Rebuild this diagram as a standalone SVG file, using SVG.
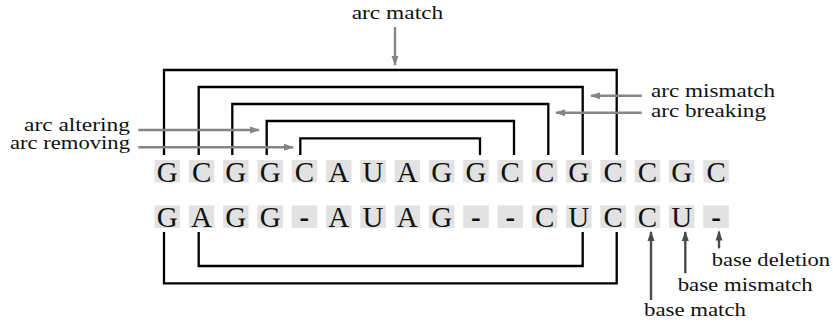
<svg xmlns="http://www.w3.org/2000/svg" width="833" height="327" viewBox="0 0 833 327">
  <defs>
    <style>
      .box { fill: #e2e2e2; }
      .base { font-size: 29px; fill: #111; text-anchor: middle; }
      .gap { font-weight: bold; }
      .lbl { font-size: 19px; fill: #111; }
      .lbl-tight { font-size: 18px; }
      .arc { fill: none; stroke: #000; stroke-width: 2.3; stroke-linejoin: miter; }
      .ptr { fill: none; stroke: #858585; stroke-width: 2.4; }
      .ptr-dark { fill: none; stroke: #4a4a4a; stroke-width: 2.4; }
    </style>
    <marker id="headLight" markerUnits="userSpaceOnUse" markerWidth="10" markerHeight="8" refX="9" refY="4" orient="auto">
      <path d="M0,0.5 L10,4 L0,7.5 z" fill="#858585"/>
    </marker>
    <marker id="headDark" markerUnits="userSpaceOnUse" markerWidth="10" markerHeight="8" refX="9" refY="4" orient="auto">
      <path d="M0,0.5 L10,4 L0,7.5 z" fill="#4a4a4a"/>
    </marker>
  </defs>

  <rect width="833" height="327" fill="#fff"/>

  <!-- upper sequence -->
  <g id="top-row" font-family="Liberation Serif, Times New Roman, serif">
    <g id="t0"><rect class="box" x="154.5" y="160" width="25.5" height="22.5"/><text class="base" x="167.25" y="181.5">G</text></g>
    <g id="t1"><rect class="box" x="188.8" y="160" width="25.5" height="22.5"/><text class="base" x="201.55" y="181.5">C</text></g>
    <g id="t2"><rect class="box" x="223.1" y="160" width="25.5" height="22.5"/><text class="base" x="235.85" y="181.5">G</text></g>
    <g id="t3"><rect class="box" x="257.4" y="160" width="25.5" height="22.5"/><text class="base" x="270.15" y="181.5">G</text></g>
    <g id="t4"><rect class="box" x="291.7" y="160" width="25.5" height="22.5"/><text class="base" x="304.45" y="181.5">C</text></g>
    <g id="t5"><rect class="box" x="326" y="160" width="25.5" height="22.5"/><text class="base" x="338.75" y="181.5">A</text></g>
    <g id="t6"><rect class="box" x="360.3" y="160" width="25.5" height="22.5"/><text class="base" x="373.05" y="181.5">U</text></g>
    <g id="t7"><rect class="box" x="394.6" y="160" width="25.5" height="22.5"/><text class="base" x="407.35" y="181.5">A</text></g>
    <g id="t8"><rect class="box" x="428.9" y="160" width="25.5" height="22.5"/><text class="base" x="441.65" y="181.5">G</text></g>
    <g id="t9"><rect class="box" x="463.2" y="160" width="25.5" height="22.5"/><text class="base" x="475.95" y="181.5">G</text></g>
    <g id="t10"><rect class="box" x="497.5" y="160" width="25.5" height="22.5"/><text class="base" x="510.25" y="181.5">C</text></g>
    <g id="t11"><rect class="box" x="531.8" y="160" width="25.5" height="22.5"/><text class="base" x="544.55" y="181.5">C</text></g>
    <g id="t12"><rect class="box" x="566.1" y="160" width="25.5" height="22.5"/><text class="base" x="578.85" y="181.5">G</text></g>
    <g id="t13"><rect class="box" x="600.4" y="160" width="25.5" height="22.5"/><text class="base" x="613.15" y="181.5">C</text></g>
    <g id="t14"><rect class="box" x="634.7" y="160" width="25.5" height="22.5"/><text class="base" x="647.45" y="181.5">C</text></g>
    <g id="t15"><rect class="box" x="669" y="160" width="25.5" height="22.5"/><text class="base" x="681.75" y="181.5">G</text></g>
    <g id="t16"><rect class="box" x="703.3" y="160" width="25.5" height="22.5"/><text class="base" x="716.05" y="181.5">C</text></g>
  </g>

  <!-- lower sequence -->
  <g id="bottom-row" font-family="Liberation Serif, Times New Roman, serif">
    <g id="b0"><rect class="box" x="154.5" y="205.5" width="25.5" height="22.5"/><text class="base" x="167.25" y="227">G</text></g>
    <g id="b1"><rect class="box" x="188.8" y="205.5" width="25.5" height="22.5"/><text class="base" x="201.55" y="227">A</text></g>
    <g id="b2"><rect class="box" x="223.1" y="205.5" width="25.5" height="22.5"/><text class="base" x="235.85" y="227">G</text></g>
    <g id="b3"><rect class="box" x="257.4" y="205.5" width="25.5" height="22.5"/><text class="base" x="270.15" y="227">G</text></g>
    <g id="b4"><rect class="box" x="291.7" y="205.5" width="25.5" height="22.5"/><text class="base gap" x="304.45" y="227">-</text></g>
    <g id="b5"><rect class="box" x="326" y="205.5" width="25.5" height="22.5"/><text class="base" x="338.75" y="227">A</text></g>
    <g id="b6"><rect class="box" x="360.3" y="205.5" width="25.5" height="22.5"/><text class="base" x="373.05" y="227">U</text></g>
    <g id="b7"><rect class="box" x="394.6" y="205.5" width="25.5" height="22.5"/><text class="base" x="407.35" y="227">A</text></g>
    <g id="b8"><rect class="box" x="428.9" y="205.5" width="25.5" height="22.5"/><text class="base" x="441.65" y="227">G</text></g>
    <g id="b9"><rect class="box" x="463.2" y="205.5" width="25.5" height="22.5"/><text class="base gap" x="475.95" y="227">-</text></g>
    <g id="b10"><rect class="box" x="497.5" y="205.5" width="25.5" height="22.5"/><text class="base gap" x="510.25" y="227">-</text></g>
    <g id="b11"><rect class="box" x="531.8" y="205.5" width="25.5" height="22.5"/><text class="base" x="544.55" y="227">C</text></g>
    <g id="b12"><rect class="box" x="566.1" y="205.5" width="25.5" height="22.5"/><text class="base" x="578.85" y="227">U</text></g>
    <g id="b13"><rect class="box" x="600.4" y="205.5" width="25.5" height="22.5"/><text class="base" x="613.15" y="227">C</text></g>
    <g id="b14"><rect class="box" x="634.7" y="205.5" width="25.5" height="22.5"/><text class="base" x="647.45" y="227">C</text></g>
    <g id="b15"><rect class="box" x="669" y="205.5" width="25.5" height="22.5"/><text class="base" x="681.75" y="227">U</text></g>
    <g id="b16"><rect class="box" x="703.3" y="205.5" width="25.5" height="22.5"/><text class="base gap" x="716.05" y="227">-</text></g>
  </g>

  <!-- base-pair arcs -->
  <g id="connectors">
    <polyline class="arc" points="164,155 164,70 616.7,70 616.7,155"/>
    <polyline class="arc" points="198.7,155 198.7,87 582.7,87 582.7,155"/>
    <polyline class="arc" points="232.3,155 232.3,104 548.3,104 548.3,155"/>
    <polyline class="arc" points="266.7,155 266.7,121 514,121 514,155"/>
    <polyline class="arc" points="300.3,155 300.3,138.3 480,138.3 480,155"/>
    <polyline class="arc" points="198.7,232 198.7,266 582.7,266 582.7,232"/>
    <polyline class="arc" points="164,232 164,283.3 616.7,283.3 616.7,232"/>

    <!-- annotation pointers -->
    <line class="ptr" x1="395" y1="27" x2="395" y2="65" marker-end="url(#headLight)"/>
    <line class="ptr" x1="641.7" y1="95.7" x2="591" y2="95.7" marker-end="url(#headLight)"/>
    <line class="ptr" x1="641.7" y1="112.7" x2="556" y2="112.7" marker-end="url(#headLight)"/>
    <line class="ptr" x1="138.3" y1="130" x2="259" y2="130" marker-end="url(#headLight)"/>
    <line class="ptr" x1="138.3" y1="147.3" x2="293" y2="147.3" marker-end="url(#headLight)"/>
    <line class="ptr-dark" x1="651" y1="300" x2="651" y2="232" marker-end="url(#headDark)"/>
    <line class="ptr-dark" x1="685.3" y1="273.3" x2="685.3" y2="232" marker-end="url(#headDark)"/>
    <line class="ptr-dark" x1="719" y1="248.3" x2="719" y2="231.5" marker-end="url(#headDark)"/>
  </g>

  <!-- annotation labels -->
  <g id="labels" font-family="Liberation Serif, Times New Roman, serif">
    <text class="lbl" x="351.7" y="18.5" textLength="91.6" lengthAdjust="spacingAndGlyphs">arc match</text>
    <text class="lbl" x="651" y="97" textLength="124" lengthAdjust="spacingAndGlyphs">arc mismatch</text>
    <text class="lbl" x="651" y="117" textLength="115" lengthAdjust="spacingAndGlyphs">arc breaking</text>
    <text class="lbl lbl-tight" x="24" y="130.5" textLength="106" lengthAdjust="spacingAndGlyphs">arc altering</text>
    <text class="lbl lbl-tight" x="10" y="149" textLength="120" lengthAdjust="spacingAndGlyphs">arc removing</text>
    <text class="lbl" x="711.7" y="266" textLength="118.3" lengthAdjust="spacingAndGlyphs">base deletion</text>
    <text class="lbl" x="677.7" y="290.5" textLength="135" lengthAdjust="spacingAndGlyphs">base mismatch</text>
    <text class="lbl" x="644" y="315.7" textLength="102" lengthAdjust="spacingAndGlyphs">base match</text>
  </g>
</svg>
